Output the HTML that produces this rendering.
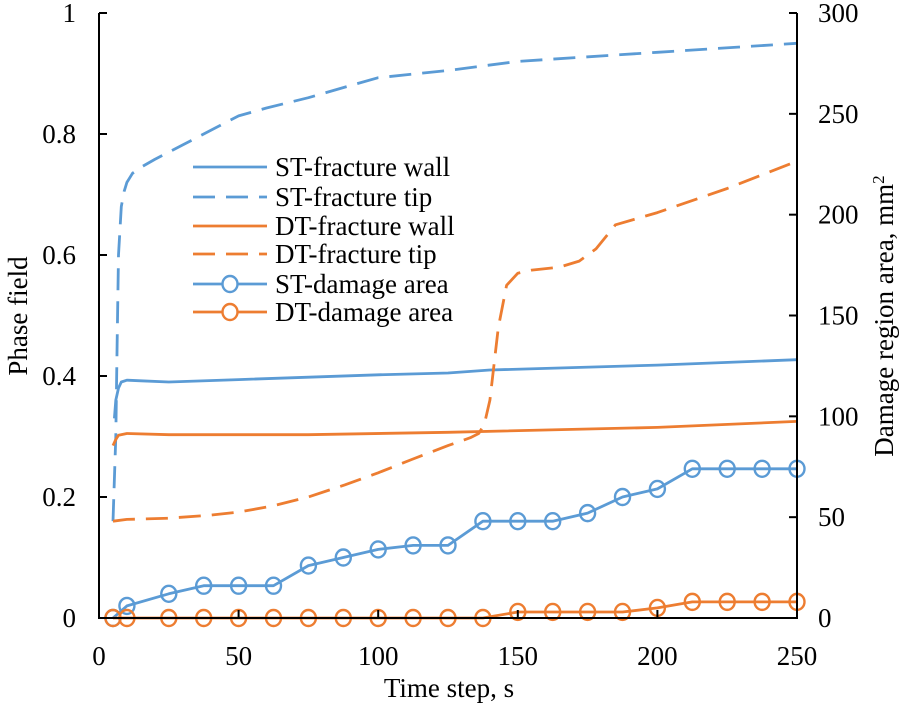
<!DOCTYPE html>
<html><head><meta charset="utf-8"><style>
body{margin:0;background:#fff}
text{font-family:"Liberation Serif",serif;fill:#000}
</style></head><body>
<svg id="chart" width="906" height="705" xmlns="http://www.w3.org/2000/svg"></svg>
<script>
const xTicks=[0,50,100,150,200,250];
const yTicks=[0,0.2,0.4,0.6,0.8,1];
const yTickLabels=["0","0.2","0.4","0.6","0.8","1"];
const y2Ticks=[0,50,100,150,200,250,300];
const stTipX=[5,6,6.5,7,8,9,10,12,15,20,25,30,37.5,45,50,60,75,90,100,125,150,200,250];
const stTipY=[0.16,0.3,0.45,0.6,0.68,0.705,0.72,0.735,0.745,0.758,0.77,0.782,0.8,0.818,0.83,0.843,0.86,0.88,0.893,0.905,0.92,0.935,0.95];
const stWallX=[5.5,6,7,8,10,15,25,50,100,125,140,200,250];
const stWallY=[0.33,0.36,0.38,0.39,0.393,0.392,0.39,0.394,0.402,0.405,0.41,0.418,0.427];
const dtWallX=[5,6,7,10,25,75,125,200,250];
const dtWallY=[0.285,0.295,0.302,0.305,0.303,0.303,0.307,0.315,0.325];
const dtTipX=[5,10,25,40,50,62,75,88,100,112,125,133,136,138,140,143,146,150,155,165,172,178,185,200,225,250];
const dtTipY=[0.16,0.163,0.165,0.17,0.175,0.185,0.2,0.22,0.24,0.262,0.285,0.298,0.305,0.32,0.36,0.48,0.55,0.57,0.575,0.58,0.59,0.61,0.65,0.67,0.71,0.755];
const dmgX=[5,10,25,37.5,50,62.5,75,87.5,100,112.5,125,137.5,150,162.5,175,187.5,200,212.5,225,237.5,250];
const stDmg=[0,6,12,16,16,16,26,30,34,36,36,48,48,48,52,60,64,74,74,74,74];
const dtDmg=[0,0,0,0,0,0,0,0,0,0,0,0,3,3,3,3,5,8,8,8,8];

const svg=document.getElementById('chart');
const NS="http://www.w3.org/2000/svg";
const X0=99,X1=797,Y0=618,Y1=13;
const sx=v=>X0+(v-0)/250*(X1-X0);
const sy=v=>Y0-v*(Y0-Y1);
const sy2=v=>Y0-v/300*(Y0-Y1);
const BLUE="#5b9bd5",ORANGE="#ed7d31";
function mk(tag,attrs,txt){const e=document.createElementNS(NS,tag);for(const k in attrs)e.setAttribute(k,attrs[k]);if(txt!==undefined)e.textContent=txt;svg.appendChild(e);return e;}
function line(xs,ys,fy,color,dash,name){
  const d=xs.map((x,i)=>(i?'L':'M')+sx(x).toFixed(1)+','+fy(ys[i]).toFixed(1)).join('');
  const p=mk('path',{d:d,fill:'none',stroke:color,'stroke-width':2.8,'stroke-dasharray':dash||'none','stroke-linejoin':'round'});
  
  
}
line(stWallX,stWallY,sy,BLUE,null,'st-fracture-wall-line');
line(stTipX,stTipY,sy,BLUE,'22,11','st-fracture-tip-line');
line(dtWallX,dtWallY,sy,ORANGE,null,'dt-fracture-wall-line');
line(dtTipX,dtTipY,sy,ORANGE,'22,11','dt-fracture-tip-line');
line(dmgX,stDmg,sy2,BLUE,null,'st-damage-area-line');
line(dmgX,dtDmg,sy2,ORANGE,null,'dt-damage-area-line');
dmgX.forEach((x,i)=>{
  const c=mk('ellipse',{cx:sx(x),cy:sy2(stDmg[i]),rx:7.5,ry:8,fill:'none',stroke:BLUE,'stroke-width':2.4});
  
  
});
dmgX.forEach((x,i)=>{
  const c=mk('ellipse',{cx:sx(x),cy:sy2(dtDmg[i]),rx:7.5,ry:8,fill:'none',stroke:ORANGE,'stroke-width':2.4});
  
  
});
const ax=mk('path',{d:`M${X0},${Y1}V${Y0}H${X1}V${Y1}`,fill:'none',stroke:'#000','stroke-width':2});


yTicks.forEach((v,i)=>{
  mk('line',{x1:X0,x2:X0+8,y1:sy(v),y2:sy(v),stroke:'#000','stroke-width':2});
  const t=mk('text',{x:76,y:sy(v)+9,'text-anchor':'end','font-size':27},yTickLabels[i]);
  
  
});
y2Ticks.forEach(v=>{
  mk('line',{x1:X1-8,x2:X1,y1:sy2(v),y2:sy2(v),stroke:'#000','stroke-width':2});
  const t=mk('text',{x:818,y:sy2(v)+9,'text-anchor':'start','font-size':27},String(v));
  
  
});
xTicks.forEach(v=>{
  mk('line',{x1:sx(v),x2:sx(v),y1:Y0,y2:Y0-8,stroke:'#000','stroke-width':2});
  const t=mk('text',{x:sx(v),y:665,'text-anchor':'middle','font-size':27},String(v));
  
  
});
</script>
<svg style="position:absolute;left:0;top:0" width="906" height="705" xmlns="http://www.w3.org/2000/svg">
<text x="449" y="697" text-anchor="middle" font-size="27">Time step, s</text>
<text transform="translate(27,316) rotate(-90)" text-anchor="middle" font-size="27">Phase field</text>
<text transform="translate(893,316) rotate(-90)" text-anchor="middle" font-size="27">Damage region area, mm<tspan dy="-9" font-size="17">2</tspan></text>
<g font-size="27">
<line x1="193" x2="267" y1="167" y2="167" stroke="#5b9bd5" stroke-width="2.8"/><text x="275" y="176">ST-fracture wall</text>
<line x1="193" x2="267" y1="197" y2="197" stroke="#5b9bd5" stroke-width="2.8" stroke-dasharray="22,11"/><text x="275" y="206">ST-fracture tip</text>
<line x1="193" x2="267" y1="226" y2="226" stroke="#ed7d31" stroke-width="2.8"/><text x="275" y="235">DT-fracture wall</text>
<line x1="193" x2="267" y1="254" y2="254" stroke="#ed7d31" stroke-width="2.8" stroke-dasharray="22,11"/><text x="275" y="263">DT-fracture tip</text>
<line x1="193" x2="267" y1="284" y2="284" stroke="#5b9bd5" stroke-width="2.8"/><ellipse cx="230" cy="284" rx="7.5" ry="8" fill="#fff" stroke="#5b9bd5" stroke-width="2.4"/><text x="275" y="293">ST-damage area</text>
<line x1="193" x2="267" y1="312" y2="312" stroke="#ed7d31" stroke-width="2.8"/><ellipse cx="230" cy="312" rx="7.5" ry="8" fill="#fff" stroke="#ed7d31" stroke-width="2.4"/><text x="275" y="321">DT-damage area</text>
</g>
</svg>
</body></html>
